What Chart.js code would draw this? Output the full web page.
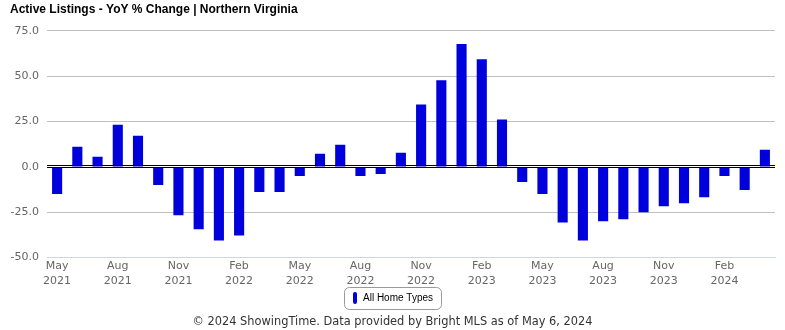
<!DOCTYPE html>
<html>
<head>
<meta charset="utf-8">
<script src="https://cdn.jsdelivr.net/npm/chart.js@4/dist/chart.umd.min.js"></script>
<style>
  html, body { margin: 0; padding: 0; background: #ffffff; }
  #wrap { position: relative; width: 785px; height: 330px; }
</style>
</head>
<body>
<div id="wrap"><canvas id="c" width="785" height="330"></canvas></div>
<script>
// ---- data ----
const categories = [
  'May 2021','Jun 2021','Jul 2021','Aug 2021','Sep 2021','Oct 2021','Nov 2021','Dec 2021',
  'Jan 2022','Feb 2022','Mar 2022','Apr 2022','May 2022','Jun 2022','Jul 2022','Aug 2022',
  'Sep 2022','Oct 2022','Nov 2022','Dec 2022','Jan 2023','Feb 2023','Mar 2023','Apr 2023',
  'May 2023','Jun 2023','Jul 2023','Aug 2023','Sep 2023','Oct 2023','Nov 2023','Dec 2023',
  'Jan 2024','Feb 2024','Mar 2024','Apr 2024'
];
const allHomeTypes = [
  -15.0, 11.1, 5.6, 23.3, 17.2, -10.0, -26.7, -34.4,
  -40.6, -37.8, -13.9, -13.9, -5.0, 7.2, 12.2, -5.0,
  -3.9, 7.8, 34.4, 47.8, 67.8, 59.4, 26.1, -8.3,
  -15.0, -30.6, -40.6, -30.0, -28.9, -25.0, -21.7, -20.0,
  -16.7, -5.0, -12.8, 9.4
];
const yTicks = [-50, -25, 0, 25, 50, 75];
const seriesName = 'All Home Types';
const titleText = 'Active Listings - YoY % Change | Northern Virginia';
const footerText = '\u00A9 2024 ShowingTime. Data provided by Bright MLS as of May 6, 2024';

const barColor = '#0000DD';

// legend marker: thin vertical pill
const marker = document.createElement('canvas');
marker.width = 4; marker.height = 12;
(function () {
  const m = marker.getContext('2d');
  m.fillStyle = barColor;
  m.beginPath();
  if (m.roundRect) m.roundRect(0, 0, 4, 12, 2); else m.rect(0, 0, 4, 12);
  m.fill();
})();

const extras = {
  id: 'extras',
  afterDatasetsDraw(chart) {
    const ctx = chart.ctx, y = chart.scales.y, a = chart.chartArea;
    const y0 = y.getPixelForValue(0);
    ctx.save();
    ctx.strokeStyle = '#000000';
    ctx.lineWidth = 1;
    [Math.round(y0) - 1.5, Math.round(y0) + 0.5].forEach(py => {
      ctx.beginPath(); ctx.moveTo(a.left, py); ctx.lineTo(a.right, py); ctx.stroke();
    });
    ctx.restore();
  },
  afterDraw(chart) {
    const lg = chart.legend;
    if (!lg || !lg.legendHitBoxes || !lg.legendHitBoxes.length) return;
    const hb = lg.legendHitBoxes[0];
    const ctx = chart.ctx;
    const x = Math.round(hb.left) - 7.5, w = Math.round(hb.width) + 16;
    const yy = Math.round(hb.top + hb.height / 2) - 10.5, h = 22;
    ctx.save();
    ctx.strokeStyle = '#999999';
    ctx.lineWidth = 1;
    ctx.beginPath();
    ctx.roundRect(x, yy, w, h, 5);
    ctx.stroke();
    ctx.restore();
  }
};

new Chart(document.getElementById('c'), {
  type: 'bar',
  data: {
    labels: categories,
    datasets: [{
      label: seriesName,
      data: allHomeTypes,
      backgroundColor: barColor,
      borderWidth: 0,
      categoryPercentage: 1.0,
      barPercentage: 0.5
    }]
  },
  options: {
    responsive: false,
    animation: false,
    layout: { padding: { left: 10, right: 10, top: 0, bottom: 0 } },
    plugins: {
      title: {
        display: true,
        text: titleText,
        align: 'start',
        color: '#000000',
        font: { family: '"Liberation Sans", Arial, sans-serif', size: 12, weight: 'bold', lineHeight: 1.2 },
        padding: { top: 2.5, bottom: 14 }
      },
      subtitle: {
        display: true,
        position: 'bottom',
        text: footerText,
        color: '#333333',
        font: { family: '"DejaVu Sans", sans-serif', size: 11.4, lineHeight: 1.2 },
        padding: { top: 2, bottom: 1.5 }
      },
      legend: {
        display: true,
        position: 'bottom',
        labels: {
          usePointStyle: true,
          pointStyleWidth: 6,
          padding: 2.25,
          color: '#333333',
          font: { family: '"Liberation Sans", Arial, sans-serif', size: 10 },
          generateLabels(chart) {
            return [{
              text: seriesName,
              fillStyle: barColor,
              strokeStyle: barColor,
              lineWidth: 0,
              pointStyle: marker,
              hidden: false,
              datasetIndex: 0
            }];
          }
        }
      },
      tooltip: { enabled: false }
    },
    scales: {
      x: {
        grid: { display: true, drawOnChartArea: false, drawTicks: false },
        border: { display: true, color: '#ccd6eb', width: 1 },
        ticks: {
          autoSkip: false,
          maxRotation: 0,
          minRotation: 0,
          padding: 1,
          color: '#666666',
          font: { family: '"DejaVu Sans", sans-serif', size: 11, lineHeight: 15 / 11 },
          callback(value, index) {
            return index % 3 === 0 ? categories[index].split(' ') : '';
          }
        },
        afterFit(scale) { scale.height = 33; }
      },
      y: {
        min: -50,
        max: 75,
        afterBuildTicks(scale) { scale.ticks = yTicks.map(v => ({ value: v })); },
        grid: {
          color(ctx) { return ctx.tick && ctx.tick.value === 0 ? 'rgba(0,0,0,0)' : '#c0c0c0'; },
          drawTicks: false,
          lineWidth: 1
        },
        border: { display: false },
        ticks: {
          padding: 8,
          color: '#666666',
          font: { family: '"DejaVu Sans", sans-serif', size: 11 },
          callback(value) { return Number(value).toFixed(1); }
        },
        afterFit(scale) { scale.width = 37; }
      }
    }
  },
  plugins: [extras]
});
</script>
</body>
</html>
